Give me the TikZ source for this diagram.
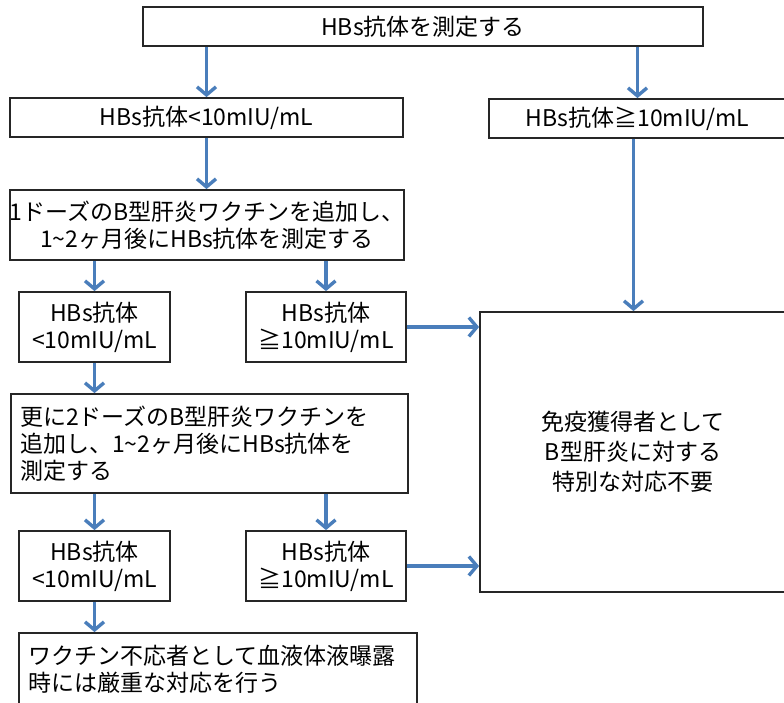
\documentclass[tikz,border=0pt]{standalone}
\usepackage{fontspec}
\setmainfont{Noto Sans CJK JP}
\usetikzlibrary{arrows.meta}
\definecolor{flowblue}{HTML}{4A7EBB}
\tikzset{
  box/.style={draw=black!85, line width=1.8pt, inner sep=0pt,
    font=\fontsize{23}{27}\selectfont},
  flow/.style={draw=flowblue, line width=3.4pt,
    -{Straight Barb[length=8pt,width=19pt]}},
}

\begin{document}
\begin{tikzpicture}[x=1pt,y=-1pt]
    \clip (0,0) rectangle (784,702);

    % first test
    \node[box, minimum width=560pt, minimum height=39pt] (measure) at (423,26.5) {HBs抗体を測定する};
    \node[box, minimum width=393pt, minimum height=39pt] (low) at (206.5,117.5) {HBs抗体<10mIU/mL};
    \node[box, minimum width=297pt, minimum height=39pt] (high) at (637.5,118.5) {HBs抗体≧10mIU/mL};

    % one more dose
    \node[box, minimum width=392pt, minimum height=70pt, align=center] (doseone) at (207,225)
        {1ドーズのB型肝炎ワクチンを追加し、\\1\textasciitilde 2ヶ月後にHBs抗体を測定する};
    \node[box, minimum width=151pt, minimum height=70pt, align=center] (lowone) at (94.5,327) {HBs抗体\\<10mIU/mL};
    \node[box, minimum width=160pt, minimum height=70pt, align=center] (highone) at (326,327) {HBs抗体\\≧10mIU/mL};

    % no action needed
    \node[box, minimum width=306pt, minimum height=280pt, align=center,
          font=\fontsize{23}{30}\selectfont] (immune) at (633,452)
        {免疫獲得者として\\B型肝炎に対する\\特別な対応不要};

    % two more doses
    \node[box, minimum width=397pt, minimum height=99pt, text width=379pt, align=left] (dosetwo) at (209.5,443.5)
        {更に2ドーズのB型肝炎ワクチンを\\追加し、1\textasciitilde 2ヶ月後にHBs抗体を\\測定する};
    \node[box, minimum width=151pt, minimum height=70pt, align=center] (lowtwo) at (94.5,566) {HBs抗体\\<10mIU/mL};
    \node[box, minimum width=160pt, minimum height=70pt, align=center] (hightwo) at (326,566) {HBs抗体\\≧10mIU/mL};

    % non-responder
    \node[box, minimum width=398pt, minimum height=72pt, text width=380pt, align=left] (strict) at (218,669)
        {ワクチン不応者として血液体液曝露\\時には厳重な対応を行う};

    \draw[flow] (measure.south -| low) -- (low.north);
    \draw[flow] (measure.south -| high) -- (high.north);
    \draw[flow] (low.south) -- (low.south |- doseone.north);
    \draw[flow] ([xshift=-4pt]high.south) -- ([xshift=-4pt]high.south |- immune.north);
    \draw[flow] (doseone.south -| lowone) -- (lowone.north);
    \draw[flow] (doseone.south -| highone) -- (highone.north);
    \draw[flow] (highone.east) -- (highone.east -| immune.west);
    \draw[flow] (lowone.south) -- (lowone.south |- dosetwo.north);
    \draw[flow] (dosetwo.south -| lowtwo) -- (lowtwo.north);
    \draw[flow] (dosetwo.south -| hightwo) -- (hightwo.north);
    \draw[flow] (hightwo.east) -- (hightwo.east -| immune.west);
    \draw[flow] (lowtwo.south) -- (lowtwo.south |- strict.north);
\end{tikzpicture}
\end{document}
